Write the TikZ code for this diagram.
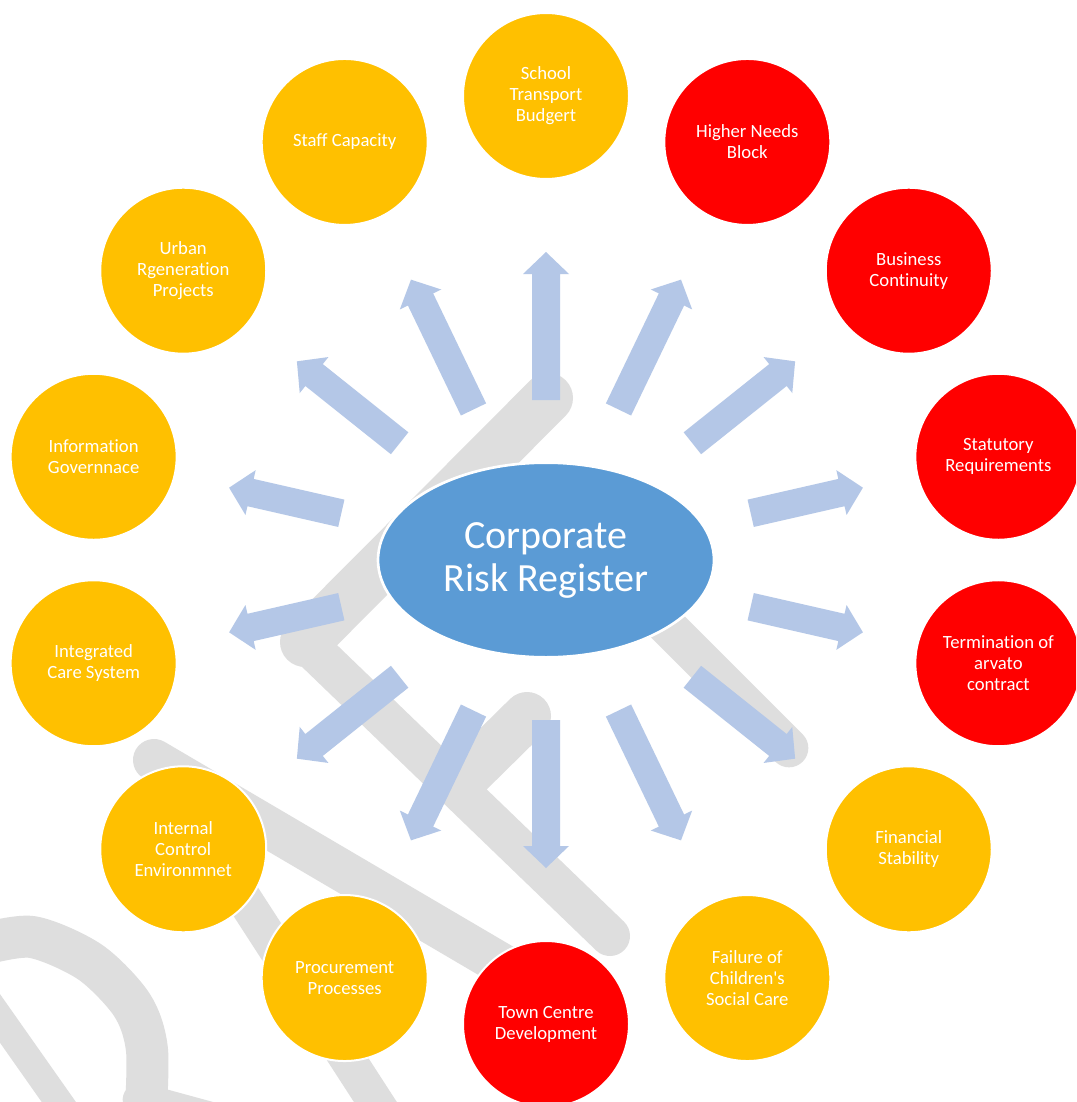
\documentclass[tikz,border=0pt]{standalone}
\usepackage{fontspec}
\newfontfamily\carlito[Ligatures={NoCommon,NoDiscretionary,NoContextual}]{Carlito}
\usetikzlibrary{shapes.geometric,calc}
\definecolor{orng}{HTML}{FFC000}
\definecolor{rd}{HTML}{FF0000}
\definecolor{blu}{HTML}{5B9BD5}
\definecolor{arr}{HTML}{B4C7E7}
\definecolor{wmgray}{HTML}{DEDEDE}
\begin{document}
\begin{tikzpicture}[x=0.75pt,y=-0.75pt,
  wm/.style={draw=wmgray, line cap=round, line join=round},
  risk/.style={circle, minimum size=124.5pt, inner sep=0pt, draw=white, line width=1.5pt, text=white, align=center, font=\carlito\fontsize{14}{15.75}\selectfont},
  amber/.style={risk, fill=orng},
  high/.style={risk, fill=rd},
  hub/.style={ellipse, minimum width=252pt, minimum height=146pt, inner sep=0pt, fill=blu, draw=white, line width=2pt, text=white, align=center, font=\carlito\fontsize{30}{32.25}\selectfont},
  blockarrow/.style={fill=arr}
]
\useasboundingbox (0,0) rectangle (1076,1102);
\clip (0,0) rectangle (1076,1102);
\fill[white] (0,0) rectangle (1076,1102);

% faint watermark strokes
\draw[wm, line width=37.5pt] (548,398) -- (305,642);
\draw[wm, line width=30pt] (305,642) -- (610,936);
\draw[wm, line width=36pt] (460,782) -- (527,716);
\draw[wm, line width=29pt] (560,519) -- (789,748);
\draw[wm, line width=31.5pt] (154,760) -- (520,975);
\draw[wm, line width=27pt] (154,760) -- (400,1140);
\draw[wm, line width=31.5pt] plot[smooth] coordinates {(-20,945) (32,937) (90,962) (132,1005) (147,1050) (145,1125)};
\draw[wm, line width=21pt] (-20,990) -- (75,1125);
\draw[wm, line width=26pt] (140,1100) -- (250,1130);

% block arrows
\foreach \i in {0,...,13} {
  \pgfmathsetmacro\ang{90-\i*360/14}
  \pgfmathsetmacro\rt{100*2.14*1.60/sqrt((1.60*cos(\ang))^2+(2.14*sin(\ang))^2)}
  \pgfmathsetmacro\rh{100*3.26*3.08/sqrt((3.08*cos(\ang))^2+(3.26*sin(\ang))^2)}
  \coordinate (t\i) at ({546+\rt*cos(\ang)},{560-\rt*sin(\ang)});
  \coordinate (h\i) at ({546+\rh*cos(\ang)},{560-\rh*sin(\ang)});
  \coordinate (b\i) at ($(h\i)!16.5pt!(t\i)$);
  \fill[blockarrow] ($(t\i)!10.5pt!90:(h\i)$) -- ($(b\i)!10.5pt!90:(h\i)$) -- ($(b\i)!17.25pt!90:(h\i)$) -- (h\i)
     -- ($(b\i)!17.25pt!-90:(h\i)$) -- ($(b\i)!10.5pt!-90:(h\i)$) -- ($(t\i)!10.5pt!-90:(h\i)$) -- cycle;
}

% central hub
\node[hub] (hub) at (546,560) {Corporate\\Risk Register};

% risk circles
\node[amber] (c0)  at ({546+464*cos(90)},{560-464*sin(90)}) {School\\Transport\\Budgert};
\node[high]  (c1)  at ({546+464*cos(90-1*360/14)},{560-464*sin(90-1*360/14)}) {Higher Needs\\Block};
\node[high]  (c2)  at ({546+464*cos(90-2*360/14)},{560-464*sin(90-2*360/14)}) {Business\\Continuity};
\node[high]  (c3)  at ({546+464*cos(90-3*360/14)},{560-464*sin(90-3*360/14)}) {Statutory\\Requirements};
\node[high]  (c4)  at ({546+464*cos(90-4*360/14)},{560-464*sin(90-4*360/14)}) {Termination of\\arvato\\contract};
\node[amber] (c5)  at ({546+464*cos(90-5*360/14)},{560-464*sin(90-5*360/14)}) {Financial\\Stability};
\node[amber] (c6)  at ({546+464*cos(90-6*360/14)},{560-464*sin(90-6*360/14)}) {Failure of\\Children\textquotesingle s\\Social Care};
\node[high]  (c7)  at ({546+464*cos(90-7*360/14)},{560-464*sin(90-7*360/14)}) {Town Centre\\Development};
\node[amber] (c8)  at ({546+464*cos(90-8*360/14)},{560-464*sin(90-8*360/14)}) {Procurement\\Processes};
\node[amber] (c9)  at ({546+464*cos(90-9*360/14)},{560-464*sin(90-9*360/14)}) {Internal\\Control\\Environmnet};
\node[amber] (c10) at ({546+464*cos(90-10*360/14)},{560-464*sin(90-10*360/14)}) {Integrated\\Care System};
\node[amber] (c11) at ({546+464*cos(90-11*360/14)},{560-464*sin(90-11*360/14)}) {Information\\Governnace};
\node[amber] (c12) at ({546+464*cos(90-12*360/14)},{560-464*sin(90-12*360/14)}) {Urban\\Rgeneration\\Projects};
\node[amber] (c13) at ({546+464*cos(90-13*360/14)},{560-464*sin(90-13*360/14)}) {Staff Capacity};
\end{tikzpicture}
\end{document}
